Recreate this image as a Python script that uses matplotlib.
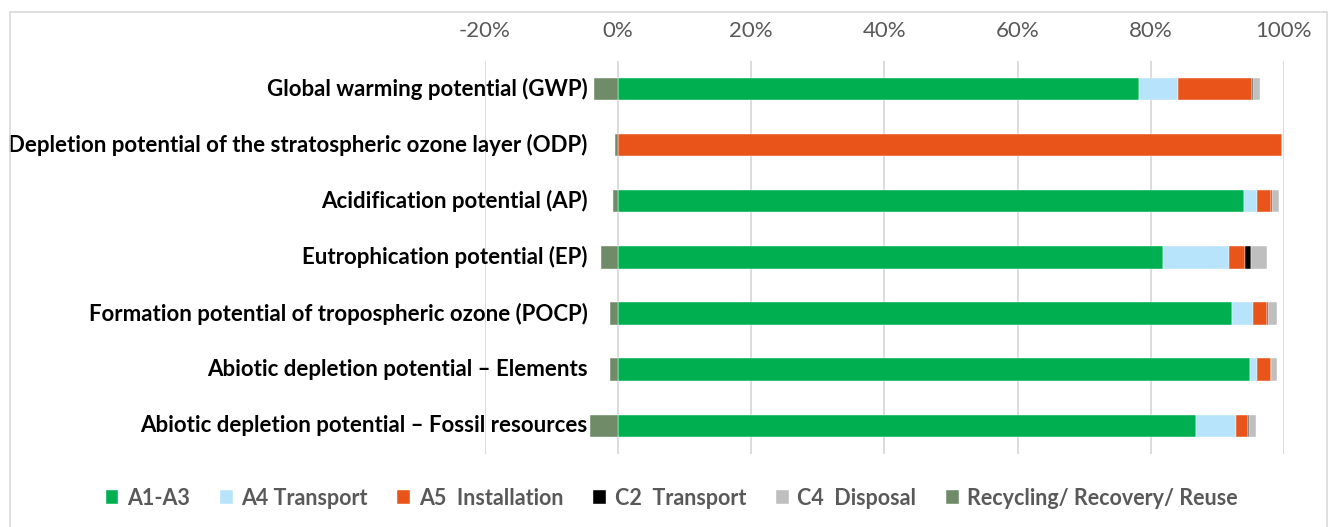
import numpy as np
import matplotlib.pyplot as plt
from matplotlib.patches import Rectangle

categories = [
    "Global warming potential (GWP)",
    "Depletion potential of the stratospheric ozone layer (ODP)",
    "Acidification potential (AP)",
    "Eutrophication potential (EP)",
    "Formation potential of tropospheric ozone (POCP)",
    "Abiotic depletion potential \u2013 Elements",
    "Abiotic depletion potential \u2013 Fossil resources",
]

# shares of total impact, in percent
a1_a3 = [78.2, 0.0, 94.0, 81.8, 92.2, 94.9, 86.8]
a4_transport = [5.9, 0.0, 2.0, 10.0, 3.1, 1.0, 6.0]
a5_installation = [11.1, 99.7, 2.0, 2.3, 2.1, 2.1, 1.8]
c2_transport = [0.2, 0.0, 0.2, 0.9, 0.2, 0.0, 0.2]
c4_disposal = [1.0, 0.0, 1.1, 2.5, 1.3, 0.9, 1.0]
recycling = [-3.6, -0.5, -0.8, -2.6, -1.2, -1.2, -4.2]

tick_values = [-20, 0, 20, 40, 60, 80, 100]
tick_labels = ["-20%", "0%", "20%", "40%", "60%", "80%", "100%"]

series = [
    ("A1-A3", a1_a3, "#00B050"),
    ("A4 Transport", a4_transport, "#B7E4FB"),
    ("A5  Installation", a5_installation, "#E8541A"),
    ("C2  Transport", c2_transport, "#000000"),
    ("C4  Disposal", c4_disposal, "#BFBFBF"),
]
recycling_label = "Recycling/ Recovery/ Reuse"
recycling_color = "#6F8B68"

plt.rcParams["font.family"] = ["Lato", "DejaVu Sans"]

fig = plt.figure(figsize=(13.33, 5.27), dpi=100)
ax = fig.add_axes([0.3638, 0.1385, 0.5994, 0.7463])

# chart border
fig.patches.append(Rectangle((10 / 1333, -0.1), 1317 / 1333, 1.1 - 12 / 527,
                             transform=fig.transFigure, fill=False,
                             edgecolor="#D9D9D9", linewidth=1.2))

y = np.arange(len(categories))
left = np.zeros(len(categories))
handles = []
for label, values, color in series:
    values = np.array(values)
    h = ax.barh(y, values, left=left, height=0.4, color=color,
                edgecolor="white", linewidth=0.3, label=label, zorder=3)
    handles.append(h)
    left += values

h = ax.barh(y, recycling, height=0.4, color=recycling_color,
            edgecolor="white", linewidth=0.3, label=recycling_label, zorder=3)
handles.append(h)

ax.set_xlim(-20, 100)
ax.set_ylim(len(categories) - 0.5, -0.5)

ax.set_xticks(tick_values)
ax.set_xticklabels(tick_labels, fontsize=16, color="#595959")
ax.xaxis.tick_top()
ax.tick_params(axis="x", length=0, pad=14)
ax.set_yticks([])
ax.grid(axis="x", color="#D9D9D9", linewidth=1.3, zorder=0)
ax.set_axisbelow(True)
for spine in ax.spines.values():
    spine.set_visible(False)

for i, name in enumerate(categories):
    ax.annotate(name, xy=(0, i), xytext=(-22, 0), textcoords="offset points",
                ha="right", va="center", fontsize=16, fontweight="bold",
                color="black", annotation_clip=False, zorder=4)

fig.legend(handles=handles, loc="center", bbox_to_anchor=(0.504, 0.055),
           ncol=6, frameon=False,
           prop={"weight": "bold", "size": 15.5},
           handlelength=0.6, handleheight=0.6, handletextpad=0.4,
           columnspacing=1.38, labelcolor="#595959")

fig.savefig("out.png", dpi=100)
